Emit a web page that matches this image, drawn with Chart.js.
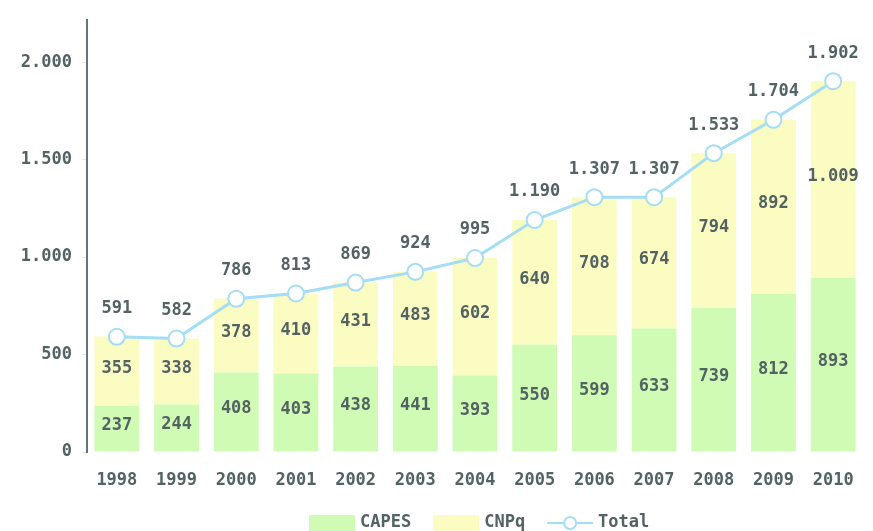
<!DOCTYPE html>
<html>
<head>
<meta charset="utf-8">
<script src="https://cdn.jsdelivr.net/npm/chart.js@4/dist/chart.umd.min.js"></script>
<style>
  html, body { margin: 0; padding: 0; background: #fff; }
  #wrap { width: 873px; height: 531px; }
</style>
</head>
<body>
<div id="wrap"><canvas id="bolsasChart" width="873" height="531"></canvas></div>
<script>
// values
const years = ['1998', '1999', '2000', '2001', '2002', '2003', '2004', '2005', '2006', '2007', '2008', '2009', '2010'];
const capes = [237, 244, 408, 403, 438, 441, 393, 550, 599, 633, 739, 812, 893];
const cnpq = [355, 338, 378, 410, 431, 483, 602, 640, 708, 674, 794, 892, 1009];
const total = [591, 582, 786, 813, 869, 924, 995, 1190, 1307, 1307, 1533, 1704, 1902];
const yTicks = [0, 500, 1000, 1500, 2000];

const textColor = '#536262';
const fontFamily = '"DejaVu Sans Mono", monospace';
const labelFont = 'bold 17px ' + fontFamily;

// 1.190 style numbers
function fmt(v) {
  return v.toString().replace(/\B(?=(\d{3})+(?!\d))/g, '.');
}

// a bit of letter spacing for every text on the canvas
const spacing = {
  id: 'spacing',
  beforeInit(chart) { chart.ctx.letterSpacing = '1px'; }
};

// writes the numbers on the bars and above the points
const valueLabels = {
  id: 'valueLabels',
  afterDatasetsDraw(chart) {
    const ctx = chart.ctx;
    ctx.save();
    ctx.font = labelFont;
    ctx.fillStyle = textColor;
    ctx.textAlign = 'center';
    ctx.textBaseline = 'middle';
    chart.data.datasets.forEach((ds, di) => {
      const meta = chart.getDatasetMeta(di);
      meta.data.forEach((el, i) => {
        if (ds.type === 'line') {
          ctx.fillText(fmt(ds.data[i]), el.x, el.y - 28);
        } else {
          ctx.fillText(fmt(ds.data[i]), el.x, (el.y + el.base) / 2 - 3);
        }
      });
    });
    ctx.restore();
  }
};

// legend at the bottom, line entry gets a line with a circle
const bottomLegend = {
  id: 'bottomLegend',
  afterDraw(chart) {
    const ctx = chart.ctx;
    const y = 523;
    ctx.save();
    ctx.font = labelFont;
    ctx.textBaseline = 'middle';
    ctx.textAlign = 'left';
    let x = 309;
    chart.data.datasets.forEach(ds => {
      if (ds.type === 'line') {
        ctx.strokeStyle = ds.borderColor;
        ctx.lineWidth = 2;
        ctx.beginPath();
        ctx.moveTo(x, y);
        ctx.lineTo(x + 46, y);
        ctx.stroke();
        ctx.beginPath();
        ctx.arc(x + 23, y, 6, 0, Math.PI * 2);
        ctx.fillStyle = '#fff';
        ctx.fill();
        ctx.stroke();
      } else {
        ctx.fillStyle = ds.backgroundColor;
        ctx.fillRect(x, y - 8, 46, 16);
      }
      ctx.fillStyle = textColor;
      ctx.fillText(ds.label, x + 51, y);
      x += 51 + ctx.measureText(ds.label).width + 22;
    });
    ctx.restore();
  }
};

const ctx = document.getElementById('bolsasChart').getContext('2d');
const bolsasChart = new Chart(ctx, {
  data: {
    labels: years,
    datasets: [
      {
        type: 'bar',
        label: 'CAPES',
        data: capes,
        stack: 'bolsas',
        order: 1,
        backgroundColor: '#cffbb4',
        barPercentage: 0.75,
        categoryPercentage: 1
      },
      {
        type: 'bar',
        label: 'CNPq',
        data: cnpq,
        stack: 'bolsas',
        order: 1,
        backgroundColor: '#fbfcc2',
        barPercentage: 0.75,
        categoryPercentage: 1
      },
      {
        type: 'line',
        label: 'Total',
        data: total,
        stack: 'total',
        order: 0,
        borderColor: '#a4ddf5',
        borderWidth: 3,
        pointRadius: 8,
        pointBackgroundColor: '#ffffff',
        pointBorderColor: '#a4ddf5',
        pointBorderWidth: 2,
        tension: 0
      }
    ]
  },
  options: {
    responsive: false,
    animation: false,
    layout: { padding: { top: 17, right: 0, bottom: 38, left: 0 } },
    plugins: {
      legend: { display: false },
      tooltip: { enabled: false }
    },
    scales: {
      x: {
        stacked: true,
        grid: { display: false },
        border: { display: false },
        ticks: { color: textColor, font: { family: fontFamily, size: 17, weight: 'bold' }, padding: 10, maxRotation: 0 },
        afterFit(scale) { scale.height = 41; }
      },
      y: {
        stacked: true,
        min: 0,
        max: 2215,
        grid: { drawOnChartArea: false, color: '#e4e8e8', tickLength: 5 },
        border: { display: true, color: '#657575', width: 2 },
        afterBuildTicks(scale) { scale.ticks = yTicks.map(v => ({ value: v })); },
        ticks: {
          color: textColor,
          font: { family: fontFamily, size: 17, weight: 'bold' },
          padding: 10,
          callback: v => fmt(v)
        },
        afterFit(scale) { scale.width = 87; }
      }
    }
  },
  plugins: [spacing, valueLabels, bottomLegend]
});
</script>
</body>
</html>
